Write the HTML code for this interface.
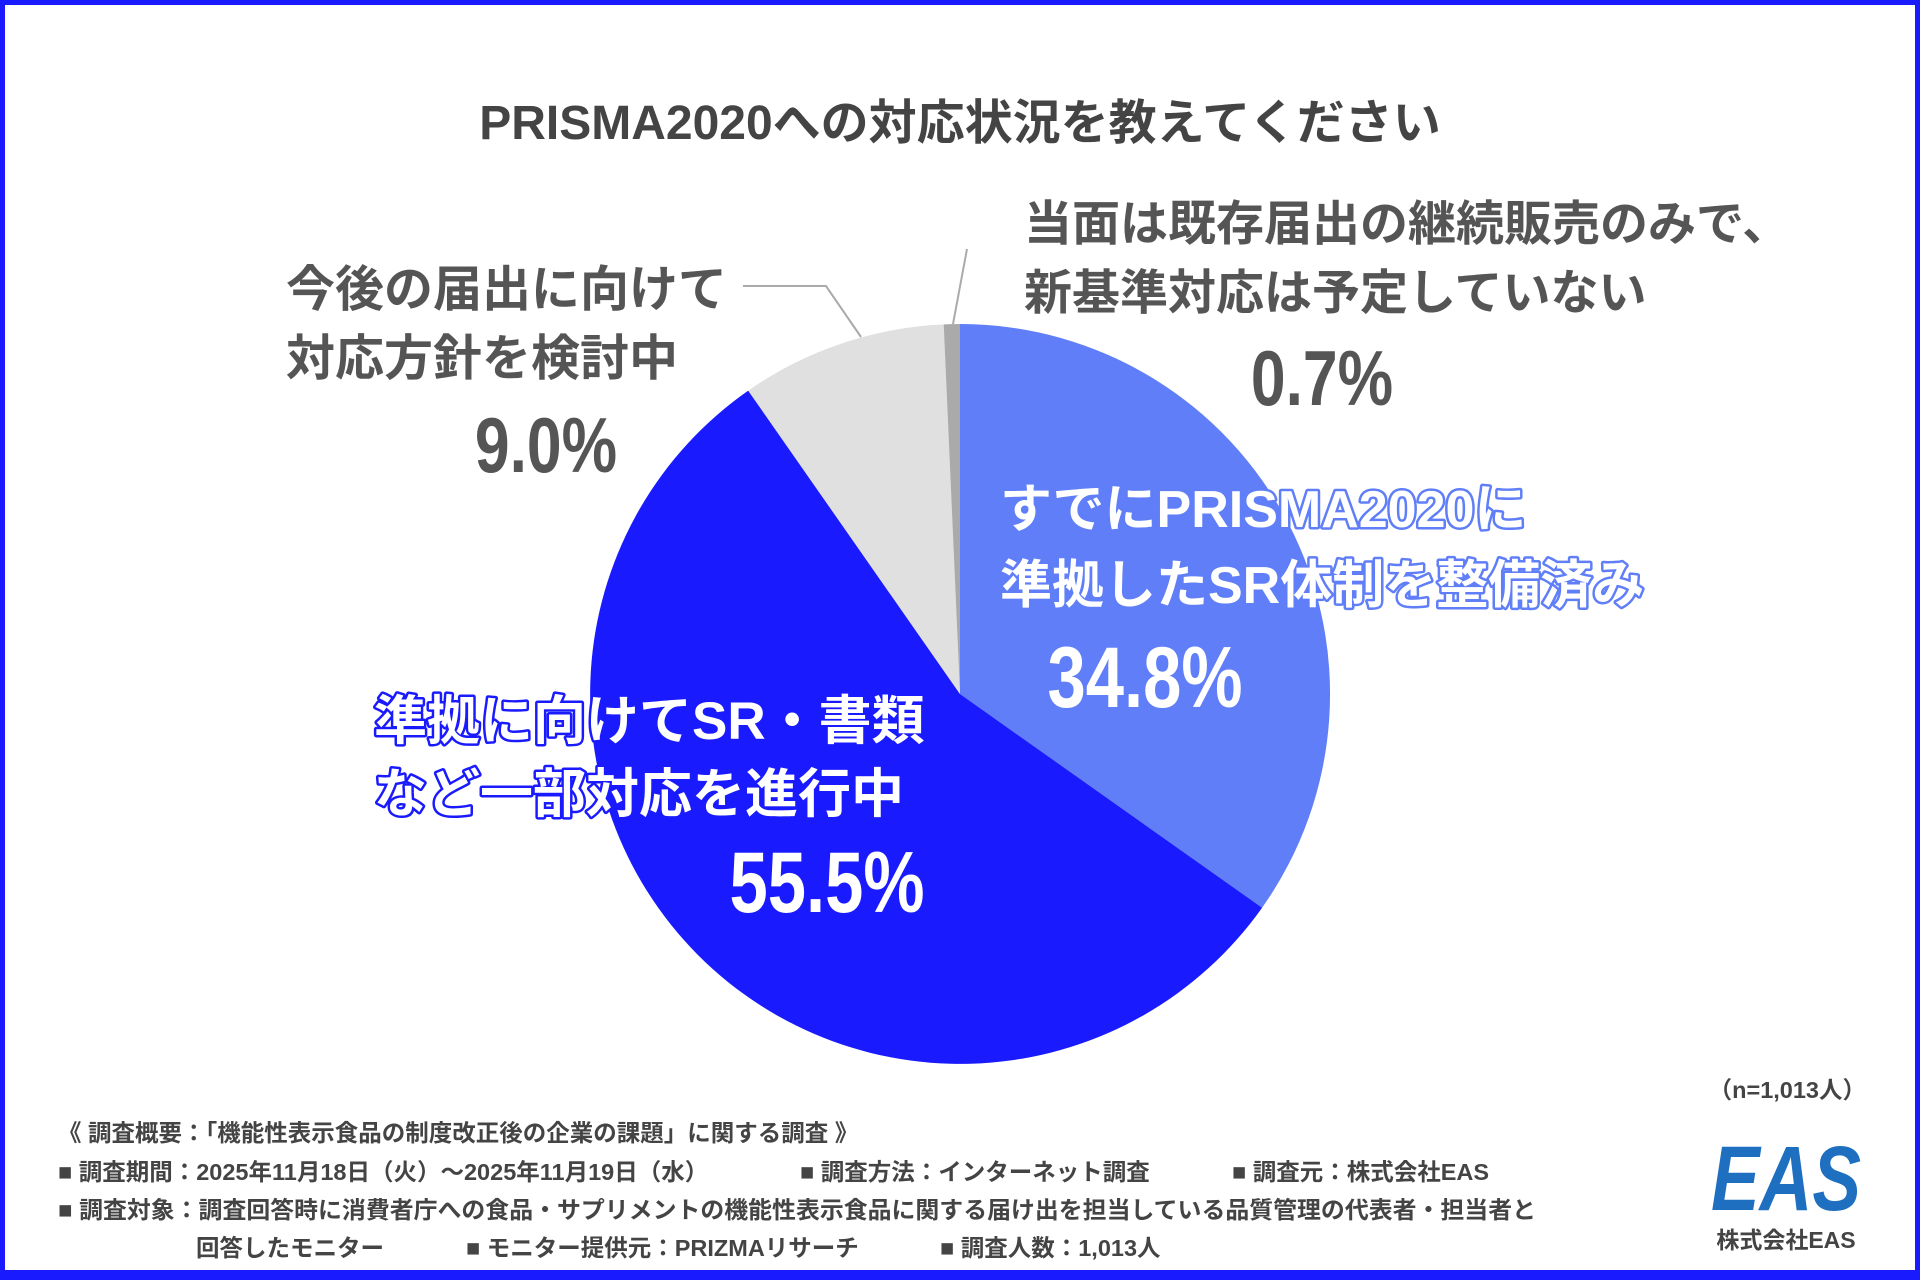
<!DOCTYPE html>
<html><head><meta charset="utf-8"><style>
html,body{margin:0;padding:0;background:#fff;}
svg{display:block}
.jp{font-family:"Liberation Sans","Noto Sans CJK JP",sans-serif;font-weight:bold;}
.num{font-family:"Liberation Sans",sans-serif;font-weight:bold;}
</style></head><body>
<svg width="1920" height="1280" viewBox="0 0 1920 1280" xmlns="http://www.w3.org/2000/svg">
<rect x="0" y="0" width="1920" height="1280" fill="#fff"/>
<rect x="2.5" y="2.5" width="1915" height="1270" fill="none" stroke="#1a1aff" stroke-width="5"/>
<rect x="0" y="1272" width="1920" height="8" fill="#1a1aff"/>

<text class="jp" x="960" y="139" font-size="48" fill="#444" text-anchor="middle">PRISMA2020への対応状況を教えてください</text>

<path d="M960,694 L960,324 A370,370 0 0 1 1262.1,907.7 Z" fill="#5f7ef7"/>
<path d="M960,694 L1262.1,907.7 A370,370 0 1 1 748.2,390.6 Z" fill="#1a1aff"/>
<path d="M960,694 L748.2,390.6 A370,370 0 0 1 943.7,324.4 Z" fill="#e0e0e0"/>
<path d="M960,694 L943.7,324.4 A370,370 0 0 1 960,324 Z" fill="#aaaaaa"/>

<polyline points="743,286 826,286 861,337" fill="none" stroke="#aaa" stroke-width="2"/>
<polyline points="967,249 953,324" fill="none" stroke="#aaa" stroke-width="2"/>

<g class="jp" fill="#555">
<text x="286" y="306" font-size="49">今後の届出に向けて</text>
<text x="286" y="375" font-size="49">対応方針を検討中</text>
<text x="1024" y="240" font-size="48">当面は既存届出の継続販売のみで、</text>
<text x="1024" y="309" font-size="48">新基準対応は予定していない</text>
</g>
<g transform="translate(546,0) scale(0.8,1)"><text class="num" x="0" y="472" font-size="78" fill="#555" text-anchor="middle">9.0%</text></g>
<g transform="translate(1322,0) scale(0.8,1)"><text class="num" x="0" y="405" font-size="78" fill="#555" text-anchor="middle">0.7%</text></g>

<g class="jp" font-size="52" fill="#fff" stroke="#5f7ef7" stroke-width="5" paint-order="stroke" stroke-linejoin="round">
<text x="1000" y="527">すでにPRISMA2020に</text>
<text x="1000" y="603">準拠したSR体制を整備済み</text>
</g>
<g transform="translate(1145,0) scale(0.8,1)"><text class="num" x="0" y="707" font-size="86" fill="#fff" text-anchor="middle">34.8%</text></g>
<g class="jp" font-size="53" fill="#fff" stroke="#1a1aff" stroke-width="5" paint-order="stroke" stroke-linejoin="round">
<text x="374" y="739">準拠に向けてSR・書類</text>
<text x="374" y="812">など一部対応を進行中</text>
</g>
<g transform="translate(827,0) scale(0.8,1)"><text class="num" x="0" y="912" font-size="86" fill="#fff" text-anchor="middle">55.5%</text></g>

<g class="jp" font-size="23.5" fill="#444">
<text x="1866" y="1098" text-anchor="end">（n=1,013人）</text>
<text x="58" y="1141">《 調査概要：「機能性表示食品の制度改正後の企業の課題」に関する調査 》</text>
<text x="58" y="1180">■ 調査期間：2025年11月18日（火）～2025年11月19日（水）</text>
<text x="800" y="1180">■ 調査方法：インターネット調査</text>
<text x="1232" y="1180">■ 調査元：株式会社EAS</text>
<text x="58" y="1218" textLength="1478" lengthAdjust="spacingAndGlyphs">■ 調査対象：調査回答時に消費者庁への食品・サプリメントの機能性表示食品に関する届け出を担当している品質管理の代表者・担当者と</text>
<text x="196" y="1256">回答したモニター</text>
<text x="466" y="1256">■ モニター提供元：PRIZMAリサーチ</text>
<text x="940" y="1256">■ 調査人数：1,013人</text>
</g>
<text x="1786" y="1210" font-family="Liberation Sans, sans-serif" font-weight="bold" font-style="italic" font-size="92" fill="#1e6fc0" text-anchor="middle" textLength="150" lengthAdjust="spacingAndGlyphs">EAS</text>
<text class="jp" x="1786" y="1248" font-size="23" fill="#444" text-anchor="middle">株式会社EAS</text>
</svg>
</body></html>
